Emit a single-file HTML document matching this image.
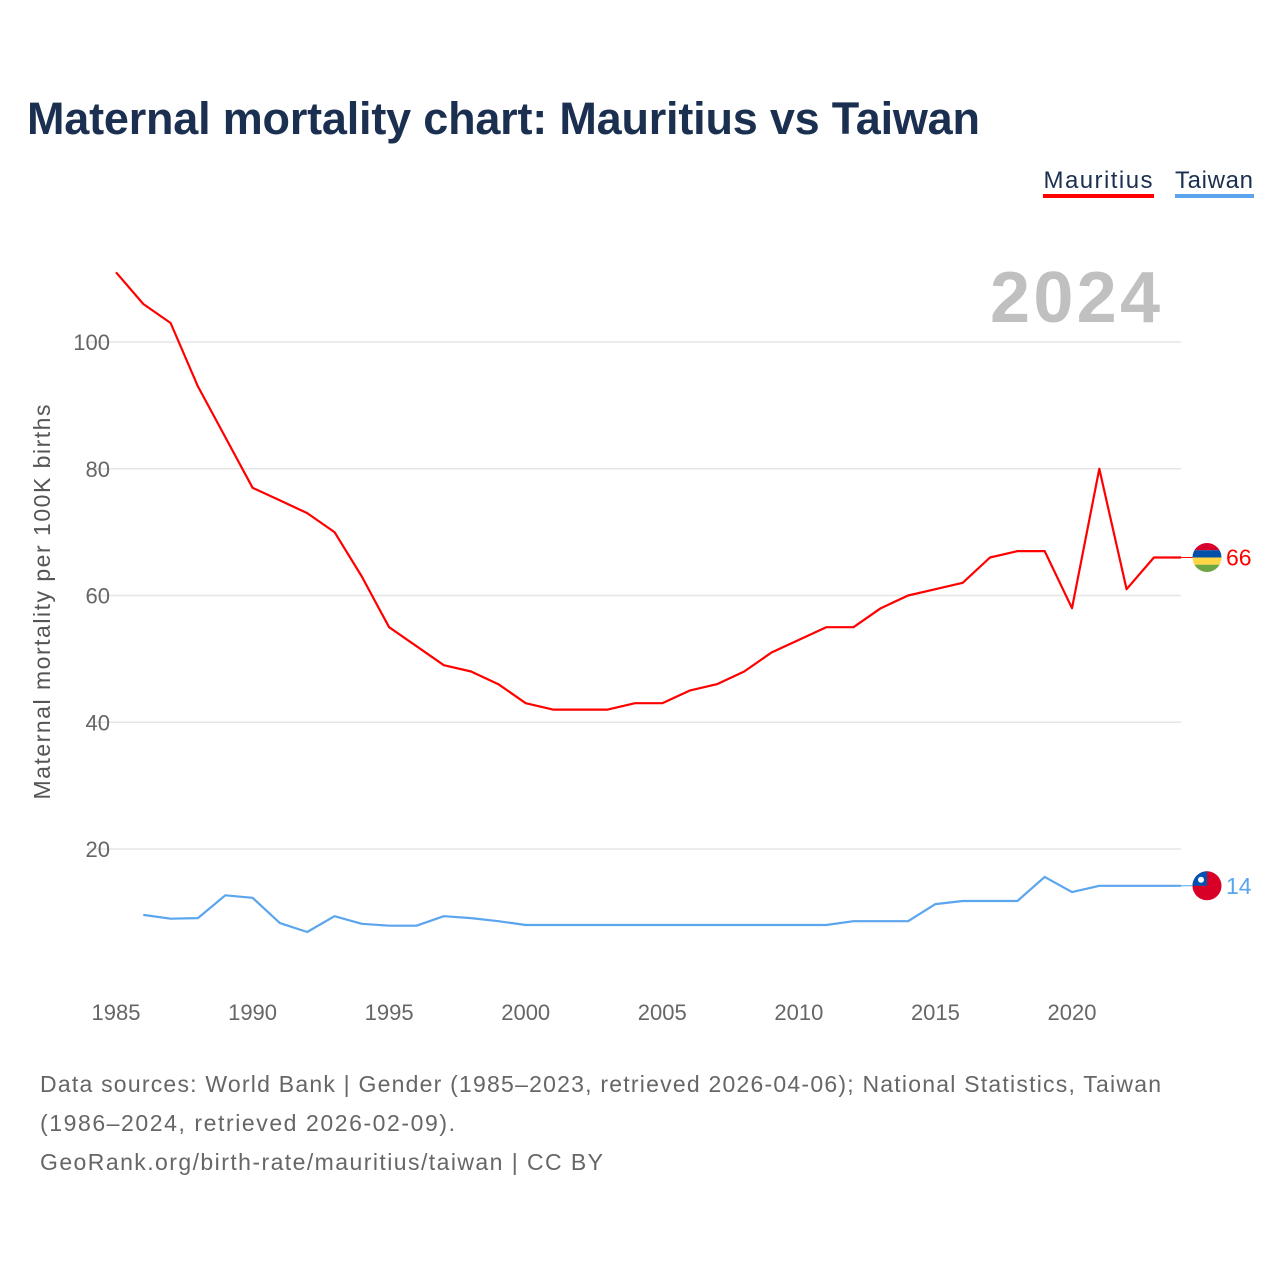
<!DOCTYPE html>
<html><head><meta charset="utf-8">
<style>
body{margin:0;background:#fff;width:1280px;height:1280px;overflow:hidden;font-family:"Liberation Sans",sans-serif}
svg text{font-family:"Liberation Sans",sans-serif}
</style></head>
<body>
<svg id="chart" width="1280" height="1280" viewBox="0 0 1280 1280">
<text x="27" y="134" font-size="45" font-weight="bold" fill="#1b3050" textLength="953">Maternal mortality chart: Mauritius vs Taiwan</text>
<g>
<text x="1098" y="188" font-size="24" fill="#1b3050" text-anchor="middle" textLength="109">Mauritius</text>
<rect x="1043" y="194" width="111" height="4" fill="#ff0000"/></g>
<g>
<text x="1214" y="188" font-size="24" fill="#1b3050" text-anchor="middle" textLength="78">Taiwan</text>
<rect x="1175" y="194" width="79" height="4" fill="#5aa5ee"/></g>
<text x="1160" y="322" font-size="72" font-weight="bold" fill="#c0c0c0" text-anchor="end" textLength="170">2024</text>
<g id="grid"></g><g id="yticks"></g><g id="xticks"></g><g id="series"></g>
<text transform="translate(50,602) rotate(-90)" font-size="23" fill="#555" text-anchor="middle" textLength="395">Maternal mortality per 100K births</text>
<g font-size="23" fill="#666">
<text x="40" y="1092" textLength="1121">Data sources: World Bank | Gender (1985–2023, retrieved 2026-04-06); National Statistics, Taiwan</text>
<text x="40" y="1131" textLength="415">(1986–2024, retrieved 2026-02-09).</text>
<text x="40" y="1170" textLength="563">GeoRank.org/birth-rate/mauritius/taiwan | CC BY</text></g>
</svg>
<script>
const mauYears=[1985,1986,1987,1988,1989,1990,1991,1992,1993,1994,1995,1996,1997,1998,1999,2000,2001,2002,2003,2004,2005,2006,2007,2008,2009,2010,2011,2012,2013,2014,2015,2016,2017,2018,2019,2020,2021,2022,2023,2024];
const mauValues=[111,106,103,93,85,77,75,73,70,63,55,52,49,48,46,43,42,42,42,43,43,45,46,48,51,53,55,55,58,60,61,62,66,67,67,58,80,61,66,66];
const twYears=[1986,1987,1988,1989,1990,1991,1992,1993,1994,1995,1996,1997,1998,1999,2000,2001,2002,2003,2004,2005,2006,2007,2008,2009,2010,2011,2012,2013,2014,2015,2016,2017,2018,2019,2020,2021,2022,2023,2024];
const twValues=[9.6,9.0,9.1,12.7,12.3,8.3,6.9,9.4,8.2,7.9,7.9,9.4,9.1,8.6,8.0,8.0,8.0,8.0,8.0,8.0,8.0,8.0,8.0,8.0,8.0,8.0,8.6,8.6,8.6,11.3,11.8,11.8,11.8,15.6,13.2,14.2,14.2,14.2,14.2];
const yTicks=[20,40,60,80,100];
const xTicks=[1985,1990,1995,2000,2005,2010,2015,2020];
const NS='http://www.w3.org/2000/svg';
const xs=y=>116+(y-1985)*27.314;
const ys=v=>975.75-v*6.3375;
function mk(t,a,p){const e=document.createElementNS(NS,t);for(const k in a)e.setAttribute(k,a[k]);p.appendChild(e);return e;}
const grid=document.getElementById('grid'),yt=document.getElementById('yticks'),xt=document.getElementById('xticks'),ser=document.getElementById('series');
yTicks.forEach(v=>{
 const l=mk('line',{x1:88,x2:1181,y1:ys(v),y2:ys(v),stroke:'#e6e6e6','stroke-width':1.5},grid);
 
 
 const t=mk('text',{x:110,y:ys(v)+8,'font-size':22,fill:'#666','text-anchor':'end'},yt);t.textContent=v;
 
 
});
xTicks.forEach(v=>{
 const t=mk('text',{x:xs(v),y:1020,'font-size':22,fill:'#666','text-anchor':'middle'},xt);t.textContent=v;
 
 
});
function series(years,vals,color,name,flag){
 const d=years.map((y,i)=>(i?'L':'M')+xs(y).toFixed(1)+','+ys(vals[i]).toFixed(1)).join('');
 const p=mk('path',{d:d,fill:'none',stroke:color,'stroke-width':2.2,'stroke-linejoin':'round'},ser);
 
 
 const lv=vals[vals.length-1],ly=ys(lv);
 mk('line',{x1:xs(years[years.length-1]),x2:1195,y1:ly,y2:ly,stroke:color,'stroke-width':1},ser);
 const g=mk('g',{},ser);
 
 
 flag(g,1207,ly);
 const t=mk('text',{x:1226,y:ly+8,'font-size':23,fill:color},ser);t.textContent=Math.round(lv);
 
 
}
series(mauYears,mauValues,'#ff0000','mauritius',(g,cx,cy)=>{
 const cp=mk('clipPath',{id:'cm'},g);mk('circle',{cx:cx,cy:cy,r:14.5},cp);
 const cols=['#d6002a','#0050aa','#ffd746','#6da544'];
 cols.forEach((c,i)=>mk('rect',{x:cx-15,y:cy-14.5+i*7.25,width:30,height:7.3,fill:c,'clip-path':'url(#cm)'},g));
});
series(twYears,twValues,'#5aa5ee','taiwan',(g,cx,cy)=>{
 mk('circle',{cx:cx,cy:cy,r:14.5,fill:'#d80027'},g);
 const cp=mk('clipPath',{id:'ct'},g);mk('circle',{cx:cx,cy:cy,r:14.5},cp);
 mk('rect',{x:cx-15,y:cy-15,width:15,height:15,fill:'#0052b4','clip-path':'url(#ct)'},g);
 mk('circle',{cx:cx-6,cy:cy-6,r:3,fill:'#fff'},g);
});
</script>
</body></html>
